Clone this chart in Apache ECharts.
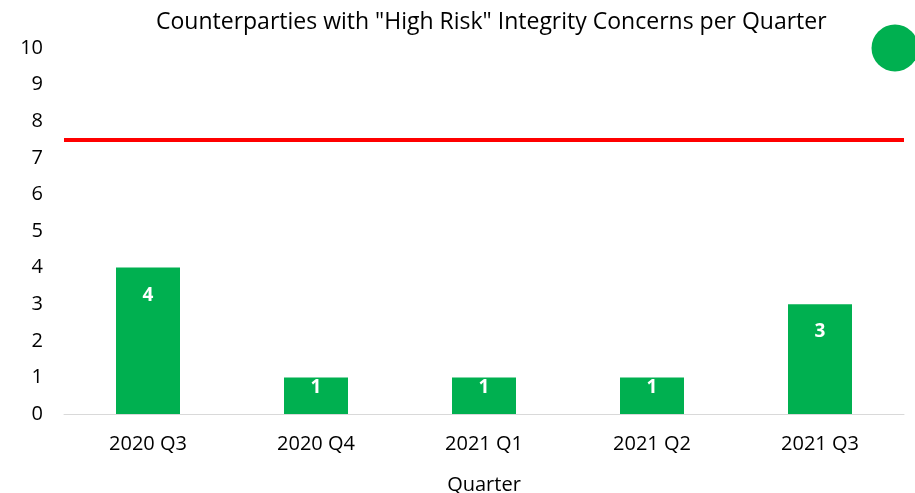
<!DOCTYPE html>
<html>
<head>
<meta charset="utf-8">
<script src="https://cdn.jsdelivr.net/npm/echarts@6/dist/echarts.min.js"></script>
<style>
	html, body { margin: 0; padding: 0; background: #fff; }
	#chart { width: 915px; height: 493px; }
</style>
</head>
<body>
<div id="chart"></div>
<script>
// Counterparties with "High Risk" Integrity Concerns per Quarter
var quarters = ['2020 Q3', '2020 Q4', '2021 Q1', '2021 Q2', '2021 Q3'];
var counts = [4, 1, 1, 1, 3];
var threshold = 7.5;
var yTicks = [0, 10, 1]; // min, max, interval

var font = '"Open Sans", "Noto Sans", sans-serif';
var myChart = echarts.init(document.getElementById('chart'));

var option = {
	animation: false,
	title: {
		text: 'Counterparties with "High Risk" Integrity Concerns per Quarter',
		left: 151,
		top: 6,
		textStyle: { fontFamily: font, fontSize: 23, fontWeight: 'normal', color: '#000' }
	},
	grid: { left: 64, right: 11, top: 48, bottom: 79, outerBoundsMode: 'none' },
	xAxis: {
		type: 'category',
		data: quarters,
		name: 'Quarter',
		nameLocation: 'middle',
		nameGap: 61,
		nameTextStyle: { fontFamily: font, fontSize: 20, color: '#000' },
		axisLine: { lineStyle: { color: '#d9d9d9', width: 1 } },
		axisTick: { show: false },
		axisLabel: { fontFamily: font, fontSize: 20, color: '#000', margin: 20 }
	},
	yAxis: {
		type: 'value',
		min: yTicks[0],
		max: yTicks[1],
		interval: yTicks[2],
		splitLine: { show: false },
		axisLine: { show: false },
		axisTick: { show: false },
		axisLabel: { fontFamily: font, fontSize: 20, color: '#000', margin: 21 }
	},
	graphic: [
		{ type: 'circle', shape: { cx: 895, cy: 48, r: 23.5 }, style: { fill: '#00b050' } }
	],
	series: [
		{
			type: 'bar',
			barWidth: 64,
			itemStyle: { color: '#00b050' },
			data: counts.map(function(v) {
				return {
					value: v,
					label: { distance: v < 2 ? 1 : 18 }
				};
			}),
			label: {
				show: true,
				position: 'insideTop',
				color: '#fff',
				fontFamily: font,
				fontSize: 19,
				fontWeight: 'bold'
			},
			markLine: {
				silent: true,
				symbol: 'none',
				label: { show: false },
				lineStyle: { color: '#ff0000', width: 4, type: 'solid' },
				data: [{ yAxis: threshold }]
			}
		}
	]
};
myChart.setOption(option);
</script>
</body>
</html>
